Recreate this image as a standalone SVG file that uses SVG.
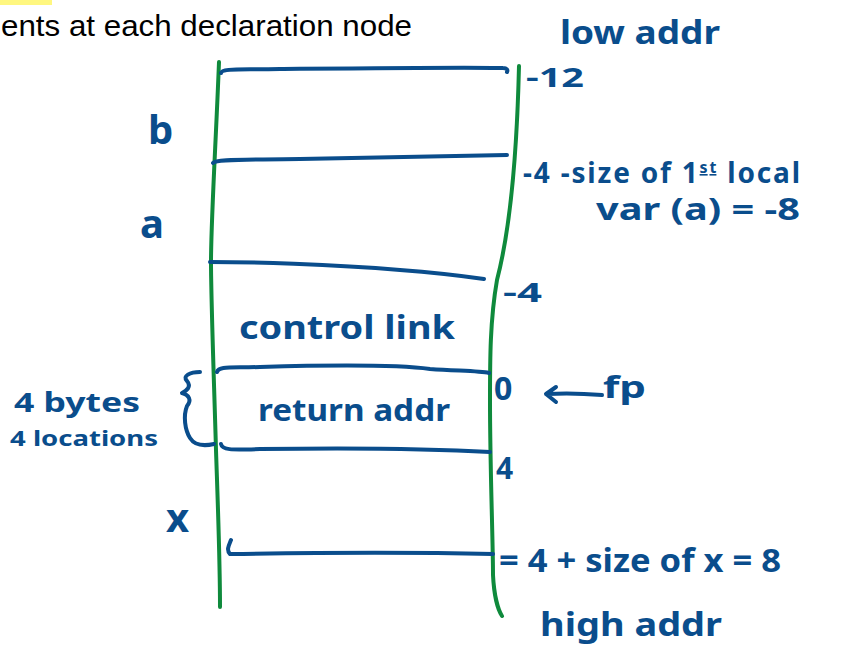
<svg xmlns="http://www.w3.org/2000/svg" width="859" height="650" viewBox="0 0 859 650">
<style>
.g{fill:none;stroke:#0f8a3c;stroke-width:4;stroke-linecap:round}
.b{fill:none;stroke:#0a4d8c;stroke-width:4;stroke-linecap:round;stroke-linejoin:round}
.h{font-family:"Noto Sans","DejaVu Sans",sans-serif;fill:#0a4d8c;font-weight:bold}
.p{font-family:"Liberation Sans",Arial,sans-serif;fill:#000}
</style>
<rect width="859" height="650" fill="#fff"/>
<rect x="0" y="0" width="52" height="5" fill="#fff780"/>
<text class="p" x="1" y="36" font-size="30" textLength="411" lengthAdjust="spacingAndGlyphs">ents at each declaration node</text>

<g id="frame">
<path class="g" d="M219,62 C216,140 211,220 211,262 C211,300 214,380 216,450 C218,510 220,560 220,607"/>
<path class="g" d="M519,66 C517,150 510,230 497,280 C490,320 490,360 490,400 C490,470 493,540 493,575 C494,595 498,610 502,616"/>
</g>

<g id="connectors">
<path class="b" d="M221,73 C222,68 240,70 280,69 C380,68 470,67 503,68 C507,68 508,70 507,72"/>
<path class="b" d="M213,163 C216,159 240,160 300,159 C400,157 470,156 507,155"/>
<path class="b" d="M210,262 C250,262 330,264 400,270 C440,273 470,277 484,279"/>
<path class="b" d="M217,372 C219,366 230,368 260,367 C330,365 400,365 430,369 C460,371 480,371 489,373"/>
<path class="b" d="M221,444 C222,450 230,450 260,449 C330,448 420,448 490,452"/>
<path class="b" d="M231,540 C229,545 226,550 230,554 C300,553 400,552 493,554"/>
<path class="b" d="M200,372 C190,372 182,376 187,381 C192,387 186,391 182,393 C189,395 192,400 187,406 C183,416 185,430 190,438 C195,446 205,446 214,444"/>
<path class="b" d="M602,395 C590,394 565,393 547,394 M556,387 L546,394 L556,402"/>
</g>

<g id="labels">
<text class="h" x="560" y="44" font-size="32" textLength="160" lengthAdjust="spacingAndGlyphs">low addr</text>
<text class="h" x="526" y="87" font-size="26" textLength="58" lengthAdjust="spacingAndGlyphs">-12</text>
<text class="h" x="523" y="183" font-size="28" textLength="277" lengthAdjust="spacing">-4 -size of 1<tspan font-size="16" dy="-10" text-decoration="underline">st</tspan><tspan dy="10"> local</tspan></text>
<text class="h" x="596" y="220" font-size="30" textLength="204" lengthAdjust="spacingAndGlyphs">var (a) = -8</text>
<text class="h" x="503" y="302" font-size="26" textLength="39" lengthAdjust="spacingAndGlyphs">-4</text>
<text class="h" x="494" y="400" font-size="32">0</text>
<text class="h" x="603" y="398" font-size="30" textLength="43" lengthAdjust="spacingAndGlyphs">fp</text>
<text class="h" x="496" y="479" font-size="30">4</text>
<text class="h" x="499" y="572" font-size="32" textLength="282" lengthAdjust="spacingAndGlyphs">= 4 + size of x = 8</text>
<text class="h" x="540" y="636" font-size="32" textLength="182" lengthAdjust="spacingAndGlyphs">high addr</text>
<text class="h" x="148" y="144" font-size="40">b</text>
<text class="h" x="140" y="238" font-size="40">a</text>
<text class="h" x="166" y="532" font-size="40">x</text>
<text class="h" x="239" y="339" font-size="32" textLength="216" lengthAdjust="spacingAndGlyphs">control link</text>
<text class="h" x="258" y="421" font-size="30" textLength="192" lengthAdjust="spacingAndGlyphs">return addr</text>
<text class="h" x="14" y="412" font-size="26" textLength="126" lengthAdjust="spacingAndGlyphs">4 bytes</text>
<text class="h" x="10" y="446" font-size="22" textLength="148" lengthAdjust="spacingAndGlyphs">4 locations</text>
</g>
</svg>
